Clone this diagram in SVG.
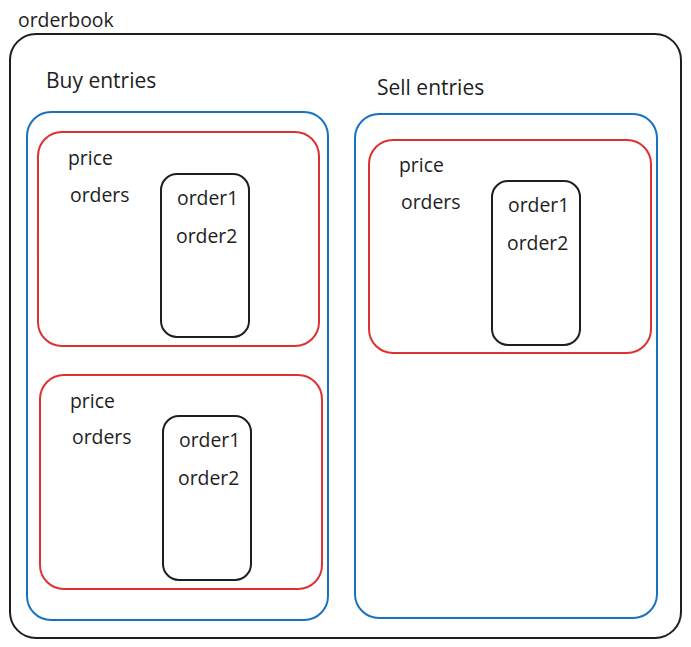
<svg xmlns="http://www.w3.org/2000/svg" width="691" height="647" viewBox="0 0 691 647">
<style>
.box{fill:none;stroke-width:2;stroke-linejoin:round}
.k{stroke:#1e1e1e}
.b{stroke:#1971c2}
.r{stroke:#e03131}
text{font-family:"Open Sans","Liberation Sans",sans-serif;fill:#1e1e1e}
.t{font-size:19.4px}
.h{font-size:21px}
</style>
<rect width="691" height="647" fill="#ffffff"/>
<g id="orderbook">
<rect class="box k" x="10" y="34" width="671" height="604" rx="26"/>
<text class="t" x="18" y="27">orderbook</text>
</g>
<g id="buy-entries">
<rect class="box b" x="27" y="112" width="301" height="508" rx="24"/>
<text class="h" x="46" y="88">Buy entries</text>
</g>
<g id="sell-entries">
<rect class="box b" x="355" y="114" width="302" height="504" rx="24"/>
<text class="h" x="377" y="95">Sell entries</text>
</g>
<g id="buy-entry-1">
<rect class="box r" x="38" y="132" width="281" height="214" rx="24"/>
<text class="t" x="68" y="165">price</text>
<text class="t" x="70" y="202">orders</text>
</g>
<g id="buy-orders-1">
<rect class="box k" x="161" y="174" width="88" height="163" rx="16"/>
<text class="t" x="177" y="205">order1</text>
<text class="t" x="176" y="243">order2</text>
</g>
<g id="buy-entry-2">
<rect class="box r" x="40" y="375" width="282" height="214" rx="24"/>
<text class="t" x="70" y="408">price</text>
<text class="t" x="72" y="444">orders</text>
</g>
<g id="buy-orders-2">
<rect class="box k" x="163" y="416" width="88" height="164" rx="16"/>
<text class="t" x="179" y="447">order1</text>
<text class="t" x="178" y="485">order2</text>
</g>
<g id="sell-entry-1">
<rect class="box r" x="369" y="140" width="282" height="213" rx="24"/>
<text class="t" x="399" y="172">price</text>
<text class="t" x="401" y="209">orders</text>
</g>
<g id="sell-orders-1">
<rect class="box k" x="492" y="181" width="88" height="164" rx="16"/>
<text class="t" x="508" y="212">order1</text>
<text class="t" x="507" y="250">order2</text>
</g>
<g id="connectors"></g>
</svg>
